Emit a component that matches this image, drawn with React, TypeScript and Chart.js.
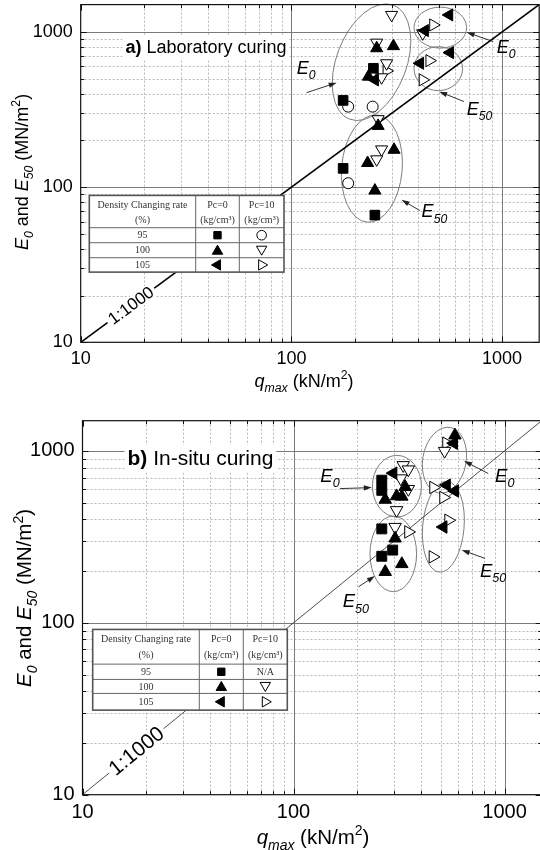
import React, { useEffect, useRef } from "react";
import { Chart, registerables } from "chart.js";
Chart.register(...registerables);

const SANS = '"Liberation Sans", Arial, Helvetica, sans-serif';
const SERIF = '"Liberation Serif", "Times New Roman", serif';

const AXIS_MIN = 10;
const AXIS_MAX = 1500;
const RATIO_LINE_Q = [10, 1500];
const RATIO_LINE_E = [10, 1500];

// ---------- (a) Laboratory curing ----------
const labSquareQ = [245, 176, 176, 249];
const labSquareE = [583, 362, 132, 66];
const labTriUpQ = [254, 305, 232, 258, 307, 230, 249];
const labTriUpE = [785, 810, 515, 248, 174, 143, 95];
const labTriLeftQ = [249, 561, 430, 566, 408];
const labTriLeftE = [491, 1287, 1020, 736, 628];
const labCircleQ = [186, 243, 186];
const labCircleE = [330, 330, 106];
const labTriDownQ = [299, 254, 283, 268, 258, 268, 254, 420];
const labTriDownE = [1287, 853, 628, 510, 274, 175, 151, 980];
const labTriRightQ = [283, 471, 452, 420];
const labTriRightE = [561, 1109, 653, 491];

// ---------- (b) In-situ curing ----------
const siteSquareQ = [262, 262, 262, 295, 262];
const siteSquareE = [676, 590, 352, 265, 244];
const siteTriUpQ = [272, 338, 308, 326, 303, 326, 272, 582];
const siteTriUpE = [521, 618, 546, 543, 310, 220, 198, 1233];
const siteTriLeftQ = [297, 575, 532, 582, 513];
const siteTriLeftE = [743, 1110, 632, 585, 361];
const siteTriDownQ = [331, 350, 322, 350, 308, 303, 520];
const siteTriDownE = [826, 780, 692, 600, 452, 361, 1000];
const siteTriRightQ = [350, 530, 460, 513, 542, 457];
const siteTriRightE = [338, 1110, 613, 536, 395, 242];

// Annotations (centres in data units)
const labEllipses = [
  { q: 240, e: 638, rx: 35, ry: 61, rot: 21 },
  { q: 241, e: 131.6, rx: 30.3, ry: 53.8, rot: 5 },
  { q: 509, e: 1066, rx: 26.3, ry: 20.5, rot: 0 },
  { q: 498, e: 580, rx: 24.3, ry: 22, rot: 0 },
];
const labArrows = [
  { q1: 118, e1: 406, q2: 164, e2: 471 },
  { q1: 908, e1: 866, q2: 679, e2: 995 },
  { q1: 659, e1: 356, q2: 503, e2: 412 },
  { q1: 407, e1: 70.6, q2: 333, e2: 82.8 },
];
const labLabels = [
  { q: 106, e: 536, sub: "0" },
  { q: 942, e: 736, sub: "0" },
  { q: 679, e: 292, sub: "50" },
  { q: 415, e: 64, sub: "50" },
];

const siteEllipses = [
  { q: 309, e: 624, rx: 24.5, ry: 30.8, rot: 0 },
  { q: 297, e: 252, rx: 23.3, ry: 37.8, rot: 0 },
  { q: 519, e: 883, rx: 21.7, ry: 33.3, rot: 10 },
  { q: 513, e: 362, rx: 20.7, ry: 45.5, rot: 5 },
];
const siteArrows = [
  { q1: 166, e1: 604, q2: 235, e2: 612 },
  { q1: 837, e1: 739, q2: 643, e2: 875 },
  { q1: 809, e1: 237, q2: 627, e2: 265 },
  { q1: 203, e1: 162, q2: 243, e2: 187 },
];
const siteLabels = [
  { q: 134, e: 661, sub: "0" },
  { q: 902, e: 661, sub: "0" },
  { q: 765, e: 185, sub: "50" },
  { q: 171, e: 123, sub: "50" },
];

const tableHeader = [
  ["Density Changing rate", "(%)"],
  ["Pc=0", "(kg/cm³)"],
  ["Pc=10", "(kg/cm³)"],
];
const tableRates = ["95", "100", "105"];

type Seg = { t: string; it?: boolean; sub?: boolean; sup?: boolean; bold?: boolean };

function drawRich(ctx: CanvasRenderingContext2D, segs: Seg[], x: number, y: number, size: number, align: "left" | "center", bg = false, family = SANS) {
  const parts = segs.map((s) => {
    const fs = s.sub || s.sup ? size * 0.68 : size;
    const font = `${s.it ? "italic " : ""}${s.bold ? "bold " : ""}${fs}px ${family}`;
    ctx.font = font;
    const w = ctx.measureText(s.t).width;
    const dy = s.sub ? size * 0.3 : s.sup ? -size * 0.42 : 0;
    return { font, w, dy, t: s.t };
  });
  const total = parts.reduce((a, p) => a + p.w, 0);
  let cx = align === "center" ? x - total / 2 : x;
  if (bg) {
    ctx.fillStyle = "#fff";
    ctx.fillRect(cx - 3, y - size * 0.95, total + 6, size * 1.3);
  }
  ctx.fillStyle = "#000";
  ctx.textAlign = "left";
  ctx.textBaseline = "alphabetic";
  for (const p of parts) {
    ctx.font = p.font;
    ctx.fillText(p.t, cx, y + p.dy);
    cx += p.w;
  }
  return total;
}

function drawSym(ctx: CanvasRenderingContext2D, kind: string, rot: number, filled: boolean, x: number, y: number, r: number) {
  ctx.beginPath();
  if (kind === "rect") {
    const s = r * Math.SQRT1_2;
    ctx.rect(x - s, y - s, 2 * s, 2 * s);
  } else if (kind === "circle") {
    ctx.arc(x, y, r, 0, Math.PI * 2);
  } else {
    let rad = (rot * Math.PI) / 180;
    ctx.moveTo(x + Math.sin(rad) * r, y - Math.cos(rad) * r);
    rad += (2 * Math.PI) / 3;
    ctx.lineTo(x + Math.sin(rad) * r, y - Math.cos(rad) * r);
    rad += (2 * Math.PI) / 3;
    ctx.lineTo(x + Math.sin(rad) * r, y - Math.cos(rad) * r);
    ctx.closePath();
  }
  ctx.fillStyle = filled ? "#000" : "#fff";
  ctx.fill();
  ctx.lineWidth = 1;
  ctx.strokeStyle = "#000";
  ctx.stroke();
}

type Series = { q: number[]; e: number[]; kind: string; rot: number; filled: boolean };

interface Panel {
  top: number;
  w: number;
  h: number;
  area: { left: number; top: number; right: number; bottom: number };
  tickSize: number;
  xPad: number;
  yPad: number;
  titleSize: number;
  xTitle: { x: number; y: number };
  yTitle: { x: number; y: number };
  series: Series[];
  markerR: { rect: number; tri: number; circle: number };
  ellipses: typeof labEllipses;
  arrows: typeof labArrows;
  labels: typeof labLabels;
  labelSize: number;
  heading: { tag: string; text: string; dx: number; dy: number; size: number };
  lineWidth: number;
  lineColor: string;
  lineLabel: { at: number; size: number };
  table: { dx: number; dy: number; cols: number[]; rows: number[]; na: boolean };
}

const panelA: Panel = {
  top: 0,
  w: 540,
  h: 400,
  area: { left: 80.7, top: 4.6, right: 539.2, bottom: 342.3 },
  tickSize: 18,
  xPad: 6,
  yPad: 8,
  titleSize: 18,
  xTitle: { x: 304, y: 387 },
  yTitle: { x: 21.5, y: 172 },
  series: [
    { q: labSquareQ, e: labSquareE, kind: "rect", rot: 0, filled: true },
    { q: labTriUpQ, e: labTriUpE, kind: "triangle", rot: 0, filled: true },
    { q: labTriLeftQ, e: labTriLeftE, kind: "triangle", rot: 270, filled: true },
    { q: labCircleQ, e: labCircleE, kind: "circle", rot: 0, filled: false },
    { q: labTriDownQ, e: labTriDownE, kind: "triangle", rot: 180, filled: false },
    { q: labTriRightQ, e: labTriRightE, kind: "triangle", rot: 90, filled: false },
  ],
  markerR: { rect: 6.8, tri: 7, circle: 5.5 },
  ellipses: labEllipses,
  arrows: labArrows,
  labels: labLabels,
  labelSize: 18,
  heading: { tag: "a)", text: " Laboratory curing", dx: 44.7, dy: 48, size: 18 },
  lineWidth: 1.6,
  lineColor: "#000",
  lineLabel: { at: 17.3, size: 17 },
  table: { dx: 8.6, dy: 8.3, cols: [106.4, 43.6, 44.7], rows: [32.3, 15, 15, 14.4], na: false },
};

const panelB: Panel = {
  top: 410,
  w: 545,
  h: 440,
  area: { left: 82.5, top: 10.7, right: 541.7, bottom: 384.7 },
  tickSize: 20,
  xPad: 6,
  yPad: 8,
  titleSize: 20.5,
  xTitle: { x: 313, y: 434 },
  yTitle: { x: 24, y: 188 },
  series: [
    { q: siteSquareQ, e: siteSquareE, kind: "rect", rot: 0, filled: true },
    { q: siteTriUpQ, e: siteTriUpE, kind: "triangle", rot: 0, filled: true },
    { q: siteTriLeftQ, e: siteTriLeftE, kind: "triangle", rot: 270, filled: true },
    { q: siteTriDownQ, e: siteTriDownE, kind: "triangle", rot: 180, filled: false },
    { q: siteTriRightQ, e: siteTriRightE, kind: "triangle", rot: 90, filled: false },
  ],
  markerR: { rect: 7, tri: 7.2, circle: 5.5 },
  ellipses: siteEllipses,
  arrows: siteArrows,
  labels: siteLabels,
  labelSize: 18.5,
  heading: { tag: "b)", text: " In-situ curing", dx: 45, dy: 44.3, size: 21 },
  lineWidth: 0.8,
  lineColor: "#222",
  lineLabel: { at: 18, size: 21 },
  table: { dx: 10.2, dy: 6.6, cols: [106.6, 44, 44], rows: [34.7, 15.3, 14, 16.7], na: true },
};

function gridValues(): { v: number; major: boolean }[] {
  const out: { v: number; major: boolean }[] = [];
  for (let dec = 10; dec <= 1000; dec *= 10) {
    for (let m = 1; m <= 9; m++) {
      const v = m * dec;
      if (v < AXIS_MIN || v > AXIS_MAX) continue;
      out.push({ v, major: m === 1 });
    }
  }
  return out;
}

function makePlugin(p: Panel) {
  return {
    id: "panelDecor",
    beforeDraw(chart: any) {
      const ctx = chart.ctx;
      ctx.save();
      ctx.fillStyle = "#fff";
      ctx.fillRect(0, 0, chart.width, chart.height);
      ctx.restore();
    },
    beforeDatasetsDraw(chart: any) {
      const ctx: CanvasRenderingContext2D = chart.ctx;
      const a = chart.chartArea;
      const xs = chart.scales.x;
      const ys = chart.scales.y;
      ctx.save();
      for (const g of gridValues()) {
        const px = Math.round(xs.getPixelForValue(g.v)) + 0.5;
        const py = Math.round(ys.getPixelForValue(g.v)) + 0.5;
        if (g.major) {
          ctx.setLineDash([]);
          ctx.strokeStyle = "#7a7a7a";
        } else {
          ctx.setLineDash([2, 2]);
          ctx.strokeStyle = "#b8b8b8";
        }
        ctx.lineWidth = 1;
        if (px > a.left + 1 && px < a.right - 1) {
          ctx.beginPath();
          ctx.moveTo(px, a.top);
          ctx.lineTo(px, a.bottom);
          ctx.stroke();
        }
        if (py > a.top + 1 && py < a.bottom - 1) {
          ctx.beginPath();
          ctx.moveTo(a.left, py);
          ctx.lineTo(a.right, py);
          ctx.stroke();
        }
      }
      ctx.setLineDash([]);
      // ellipses
      ctx.strokeStyle = "#7d7d7d";
      ctx.lineWidth = 1;
      for (const el of p.ellipses) {
        const cx = xs.getPixelForValue(el.q);
        const cy = ys.getPixelForValue(el.e);
        ctx.beginPath();
        ctx.ellipse(cx, cy, el.rx, el.ry, (el.rot * Math.PI) / 180, 0, Math.PI * 2);
        ctx.stroke();
      }
      // arrows
      for (const ar of p.arrows) {
        const x1 = xs.getPixelForValue(ar.q1);
        const y1 = ys.getPixelForValue(ar.e1);
        const x2 = xs.getPixelForValue(ar.q2);
        const y2 = ys.getPixelForValue(ar.e2);
        const ang = Math.atan2(y2 - y1, x2 - x1);
        const L = 8;
        const Wd = 2.6;
        ctx.strokeStyle = "#333";
        ctx.lineWidth = 1;
        ctx.beginPath();
        ctx.moveTo(x1, y1);
        ctx.lineTo(x2 - Math.cos(ang) * L * 0.8, y2 - Math.sin(ang) * L * 0.8);
        ctx.stroke();
        ctx.fillStyle = "#222";
        ctx.beginPath();
        ctx.moveTo(x2, y2);
        ctx.lineTo(x2 - Math.cos(ang) * L - Math.sin(ang) * Wd, y2 - Math.sin(ang) * L + Math.cos(ang) * Wd);
        ctx.lineTo(x2 - Math.cos(ang) * L + Math.sin(ang) * Wd, y2 - Math.sin(ang) * L - Math.cos(ang) * Wd);
        ctx.closePath();
        ctx.fill();
      }
      ctx.restore();
    },
    afterDatasetsDraw(chart: any) {
      const ctx: CanvasRenderingContext2D = chart.ctx;
      const a = chart.chartArea;
      const xs = chart.scales.x;
      const ys = chart.scales.y;
      ctx.save();

      // 1:1000 label
      const p1x = xs.getPixelForValue(10), p1y = ys.getPixelForValue(10);
      const p2x = xs.getPixelForValue(1000), p2y = ys.getPixelForValue(1000);
      const ang = Math.atan2(p2y - p1y, p2x - p1x);
      const lx = xs.getPixelForValue(p.lineLabel.at);
      const ly = ys.getPixelForValue(p.lineLabel.at);
      ctx.save();
      ctx.translate(lx, ly);
      ctx.rotate(ang);
      ctx.font = `${p.lineLabel.size}px ${SANS}`;
      const tw = ctx.measureText("1:1000").width;
      ctx.fillStyle = "#fff";
      ctx.fillRect(-tw / 2 - 3, -p.lineLabel.size * 0.45, tw + 6, p.lineLabel.size * 0.9);
      ctx.fillStyle = "#000";
      ctx.textAlign = "center";
      ctx.textBaseline = "middle";
      ctx.fillText("1:1000", 0, 1);
      ctx.restore();

      // table legend
      const t = p.table;
      const x0 = a.left + t.dx;
      const y0 = ys.getPixelForValue(100) + t.dy;
      const cx = [x0];
      t.cols.forEach((c) => cx.push(cx[cx.length - 1] + c));
      const ry = [y0];
      t.rows.forEach((r) => ry.push(ry[ry.length - 1] + r));
      const W = cx[3] - x0;
      const H = ry[4] - y0;
      ctx.fillStyle = "#fff";
      ctx.fillRect(x0, y0, W, H);
      ctx.strokeStyle = "#666";
      ctx.lineWidth = 1;
      ctx.beginPath();
      for (let i = 1; i < 4; i++) {
        ctx.moveTo(x0, ry[i]);
        ctx.lineTo(cx[3], ry[i]);
      }
      for (let i = 1; i < 3; i++) {
        ctx.moveTo(cx[i], y0);
        ctx.lineTo(cx[i], ry[4]);
      }
      ctx.stroke();
      ctx.strokeStyle = "#555";
      ctx.lineWidth = 1.6;
      ctx.strokeRect(x0, y0, W, H);
      ctx.fillStyle = "#333";
      ctx.font = `10px ${SERIF}`;
      ctx.textAlign = "center";
      ctx.textBaseline = "middle";
      for (let c = 0; c < 3; c++) {
        const mx = (cx[c] + cx[c + 1]) / 2;
        ctx.fillText(tableHeader[c][0], mx, y0 + t.rows[0] * 0.3);
        ctx.fillText(tableHeader[c][1], mx, y0 + t.rows[0] * 0.76);
      }
      const symCol1 = [
        { kind: "rect", rot: 0 },
        { kind: "triangle", rot: 0 },
        { kind: "triangle", rot: 270 },
      ];
      const symCol2 = [
        { kind: "circle", rot: 0 },
        { kind: "triangle", rot: 180 },
        { kind: "triangle", rot: 90 },
      ];
      for (let r = 0; r < 3; r++) {
        const my = (ry[r + 1] + ry[r + 2]) / 2;
        ctx.fillStyle = "#333";
        ctx.font = `10px ${SERIF}`;
        ctx.textAlign = "center";
        ctx.textBaseline = "middle";
        ctx.fillText(tableRates[r], (cx[0] + cx[1]) / 2, my + 0.5);
        const s1 = symCol1[r];
        drawSym(ctx, s1.kind, s1.rot, true, (cx[1] + cx[2]) / 2, my + (s1.kind === "triangle" && s1.rot === 0 ? 1 : 0), s1.kind === "rect" ? 5.2 : s1.kind === "circle" ? 4.8 : 6);
        if (r === 0 && t.na) {
          ctx.fillStyle = "#333";
          ctx.font = `10px ${SERIF}`;
          ctx.textAlign = "center";
          ctx.textBaseline = "middle";
          ctx.fillText("N/A", (cx[2] + cx[3]) / 2, my + 0.5);
        } else {
          const s2 = symCol2[r];
          drawSym(ctx, s2.kind, s2.rot, false, (cx[2] + cx[3]) / 2, my + (s2.rot === 180 ? -1 : 0), s2.kind === "circle" ? 4.8 : 6);
        }
      }

      // heading
      const hx = a.left + p.heading.dx;
      const hy = a.top + p.heading.dy;
      drawRich(ctx, [{ t: p.heading.tag, bold: true }, { t: p.heading.text }], hx, hy, p.heading.size, "left", true);

      // E labels
      for (const lb of p.labels) {
        const x = xs.getPixelForValue(lb.q);
        const y = ys.getPixelForValue(lb.e);
        drawRich(ctx, [{ t: "E", it: true }, { t: lb.sub, it: true, sub: true }], x, y, p.labelSize, "left", false);
      }

      // frame and inward ticks
      ctx.strokeStyle = "#111";
      ctx.lineWidth = 1.2;
      ctx.strokeRect(a.left, a.top, a.right - a.left, a.bottom - a.top);
      ctx.lineWidth = 1;
      ctx.beginPath();
      for (const g of gridValues()) {
        const len = g.major ? 6 : 3.5;
        const px = Math.round(xs.getPixelForValue(g.v)) + 0.5;
        const py = Math.round(ys.getPixelForValue(g.v)) + 0.5;
        ctx.moveTo(px, a.bottom);
        ctx.lineTo(px, a.bottom - len);
        ctx.moveTo(px, a.top);
        ctx.lineTo(px, a.top + len);
        ctx.moveTo(a.left, py);
        ctx.lineTo(a.left + len, py);
        ctx.moveTo(a.right, py);
        ctx.lineTo(a.right - len, py);
      }
      ctx.stroke();

      // axis titles
      drawRich(
        ctx,
        [{ t: "q", it: true }, { t: "max", it: true, sub: true }, { t: " (kN/m" }, { t: "2", sup: true }, { t: ")" }],
        p.xTitle.x,
        p.xTitle.y,
        p.titleSize,
        "center"
      );
      ctx.save();
      ctx.translate(p.yTitle.x, p.yTitle.y);
      ctx.rotate(-Math.PI / 2);
      drawRich(
        ctx,
        [
          { t: "E", it: true },
          { t: "0", it: true, sub: true },
          { t: " and " },
          { t: "E", it: true },
          { t: "50", it: true, sub: true },
          { t: " (MN/m" },
          { t: "2", sup: true },
          { t: ")" },
        ],
        0,
        p.titleSize * 0.35,
        p.titleSize,
        "center"
      );
      ctx.restore();
      ctx.restore();
    },
  };
}

function decadeLabel(v: any) {
  const n = Number(v);
  const l = Math.log10(n);
  return Math.abs(l - Math.round(l)) < 1e-9 ? String(n) : null;
}

function ChartPanel({ p }: { p: Panel }) {
  const ref = useRef<HTMLCanvasElement | null>(null);
  useEffect(() => {
    const canvas = ref.current!;
    const datasets: any[] = p.series.map((s) => ({
      label: "",
      data: s.q.map((q, i) => ({ x: q, y: s.e[i] })),
      pointStyle: s.kind,
      rotation: s.rot,
      pointRadius: s.kind === "rect" ? p.markerR.rect : s.kind === "circle" ? p.markerR.circle : p.markerR.tri,
      backgroundColor: s.filled ? "#000" : "#fff",
      borderColor: "#000",
      borderWidth: 1,
      showLine: false,
      order: 1,
    }));
    datasets.push({
      label: "1:1000",
      data: RATIO_LINE_Q.map((q, i) => ({ x: q, y: RATIO_LINE_E[i] })),
      showLine: true,
      borderColor: p.lineColor,
      borderWidth: p.lineWidth,
      pointRadius: 0,
      fill: false,
      order: 10,
    });
    const chart = new Chart(canvas, {
      type: "scatter",
      data: { datasets },
      options: {
        animation: false,
        responsive: false,
        devicePixelRatio: 1,
        events: [],
        layout: { autoPadding: false, padding: { left: 0, top: p.area.top, right: p.w - p.area.right, bottom: 0 } },
        plugins: { legend: { display: false }, tooltip: { enabled: false }, title: { display: false } },
        scales: {
          x: {
            type: "logarithmic",
            min: AXIS_MIN,
            max: AXIS_MAX,
            position: "bottom",
            grid: { display: false, drawTicks: false },
            border: { display: false },
            ticks: {
              autoSkip: false,
              maxRotation: 0,
              padding: p.xPad,
              color: "#000",
              font: { family: SANS, size: p.tickSize },
              callback: decadeLabel,
            },
            afterFit: (s: any) => {
              s.height = p.h - p.area.bottom;
              s.paddingLeft = 0;
              s.paddingRight = 0;
              s.paddingTop = 0;
              s.paddingBottom = 0;
            },
          },
          y: {
            type: "logarithmic",
            min: AXIS_MIN,
            max: AXIS_MAX,
            position: "left",
            grid: { display: false, drawTicks: false },
            border: { display: false },
            ticks: {
              autoSkip: false,
              padding: p.yPad,
              color: "#000",
              font: { family: SANS, size: p.tickSize },
              callback: decadeLabel,
            },
            afterFit: (s: any) => {
              s.width = p.area.left;
              s.paddingLeft = 0;
              s.paddingRight = 0;
              s.paddingTop = 0;
              s.paddingBottom = 0;
            },
          },
        },
      } as any,
      plugins: [makePlugin(p) as any],
    });
    return () => chart.destroy();
  }, []);
  return (
    <canvas
      ref={ref}
      width={p.w}
      height={p.h}
      style={{ position: "absolute", left: 0, top: p.top, width: p.w, height: p.h, display: "block" }}
    />
  );
}

export default function App() {
  return (
    <div style={{ position: "absolute", left: 0, top: 0, width: 540, height: 850, overflow: "hidden", background: "#fff" }}>
      <ChartPanel p={panelA} />
      <ChartPanel p={panelB} />
    </div>
  );
}
